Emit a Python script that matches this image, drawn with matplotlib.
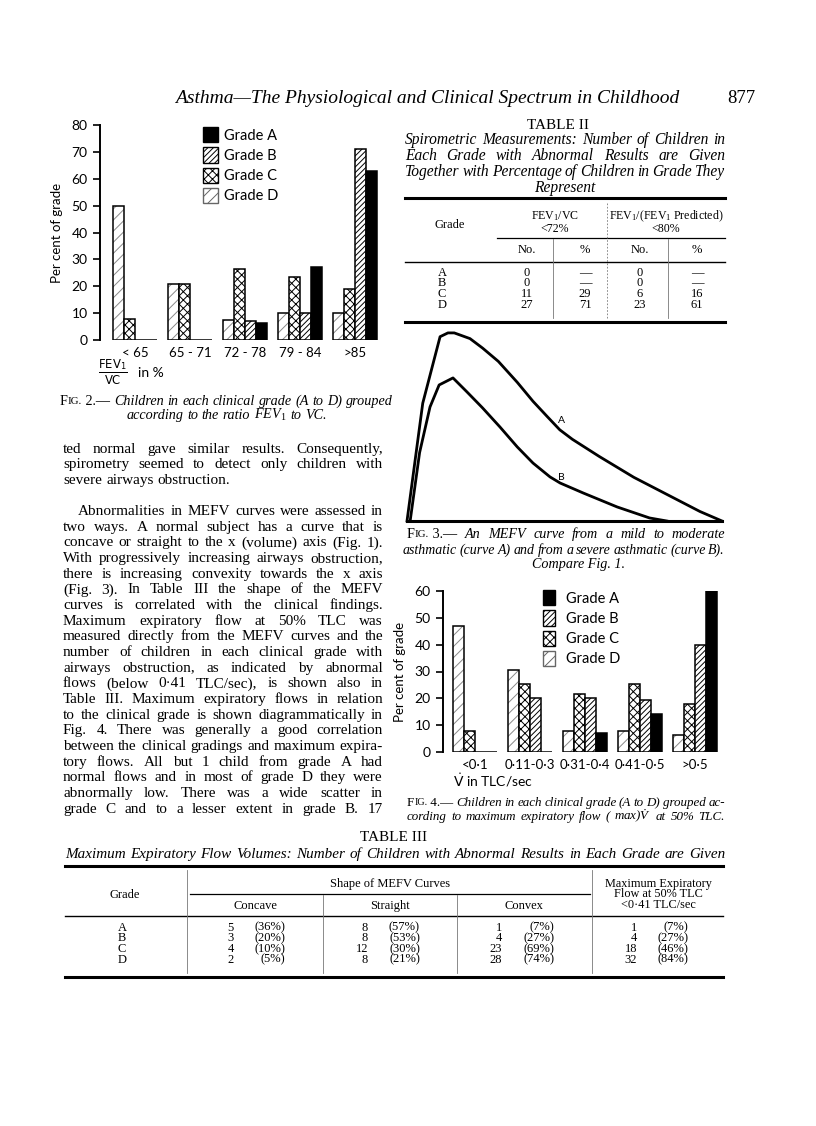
import numpy as np
import matplotlib
matplotlib.use("Agg")
import matplotlib.pyplot as plt
from matplotlib.patches import Patch
from matplotlib.lines import Line2D

# ---- data ----
fev_groups = ["< 65", "65 - 71", "72 - 78", "79 - 84", ">85"]
fev_grade_d = [50, 21, 7.5, 10, 10]
fev_grade_c = [8, 21, 26.5, 23.5, 19]
fev_grade_b = [0, 0, 7, 10, 71]
fev_grade_a = [0, 0, 6.5, 27, 63]

flow_groups = ["<0·1", "0·11-0·3", "0·31-0·4", "0·41-0·5", ">0·5"]
flow_grade_d = [47, 30.5, 8, 8, 6.5]
flow_grade_c = [8, 25.5, 21.5, 25.5, 18]
flow_grade_b = [0, 20, 20, 19.5, 40]
flow_grade_a = [0, 0, 7, 14, 60]

# MEFV curves (volume, flow in % of full scale)
vol_a = [0, 5, 10.5, 13, 15, 20, 24, 29, 35, 40, 44.5, 48.5, 52.5, 61, 72, 82.5, 93, 100]
flow_a = [0, 62, 97, 99, 99, 96, 91, 84, 73, 63, 55, 48, 43, 34, 23, 14, 5, 0]
vol_b = [1, 4, 7.3, 10.2, 14.6, 19, 24, 29.5, 35, 40, 45.4, 48.6, 56, 66.7, 77, 82.5]
flow_b = [0, 36, 60, 71.6, 75.3, 68, 59.5, 49.5, 39, 30.5, 23.2, 20, 14.7, 7.4, 1.6, 0]

t2_grades = ["A", "B", "C", "D"]
t2_fev_no = ["0", "0", "11", "27"]
t2_fev_pct = ["—", "—", "29", "71"]
t2_pred_no = ["0", "0", "6", "23"]
t2_pred_pct = ["—", "—", "16", "61"]

t3_grades = ["A", "B", "C", "D"]
t3_concave = [(5, 36), (3, 20), (4, 10), (2, 5)]
t3_straight = [(8, 57), (8, 53), (12, 30), (8, 21)]
t3_convex = [(1, 7), (4, 27), (23, 69), (28, 74)]
t3_maxflow = [(1, 7), (4, 27), (18, 46), (32, 84)]

body_1 = ["ted normal gave similar results.  Consequently,",
          "spirometry seemed to detect only children with",
          "severe airways obstruction."]
body_2 = ["Abnormalities in MEFV curves were assessed in",
          "two ways.  A normal subject has a curve that is",
          "concave or straight to the x (volume) axis (Fig. 1).",
          "With progressively increasing airways obstruction,",
          "there is increasing convexity towards the x axis",
          "(Fig. 3).  In Table III the shape of the MEFV",
          "curves is correlated with the clinical findings.",
          "Maximum expiratory flow at 50% TLC was",
          "measured directly from the MEFV curves and the",
          "number of children in each clinical grade with",
          "airways obstruction, as indicated by abnormal",
          "flows (below 0·41 TLC/sec), is shown also in",
          "Table III.  Maximum expiratory flows in relation",
          "to the clinical grade is shown diagrammatically in",
          "Fig. 4.  There was generally a good correlation",
          "between the clinical gradings and maximum expira-",
          "tory flows.  All but 1 child from grade A had",
          "normal flows and in most of grade D they were",
          "abnormally low.  There was a wide scatter in",
          "grade C and to a lesser extent in grade B.  17"]

SERIF = "Liberation Serif"
SANS = "Lato"
plt.rcParams["mathtext.fontset"] = "custom"
plt.rcParams["mathtext.rm"] = SERIF
plt.rcParams["mathtext.it"] = SERIF + ":italic"
plt.rcParams["mathtext.sf"] = "DejaVu Sans"
plt.rcParams["hatch.linewidth"] = 0.7
plt.rcParams["font.family"] = [SANS, "DejaVu Sans"]

W, H = 816, 1126
fig = plt.figure(figsize=(W / 100, H / 100), dpi=100)
fig.patch.set_facecolor("white")
R = fig.canvas.get_renderer()


def put(x, y, s, size=10, style="normal", ha="left", family=SERIF, **kw):
    # y is the visual centre of the line, converted to a baseline
    base = y + 0.3 * size * 100 / 72
    return fig.text(x / W, 1 - base / H, s, fontsize=size, fontstyle=style,
                    ha=ha, va="baseline", family=family, **kw)


def text_line(x0, x1, y, words, size=10, style="normal", align="justify"):
    pieces = []
    for w in words:
        segs = w if isinstance(w, list) else [(w, style, 1.0)]
        pieces.append([put(0, y, s, size * sc, st) for s, st, sc in segs])
    widths = [[t.get_window_extent(R).width for t in ts] for ts in pieces]
    total = sum(sum(ws) for ws in widths)
    gap = 0.27 * size * 100 / 72
    x = x0
    if align == "justify" and len(pieces) > 1:
        gap = (x1 - x0 - total) / (len(pieces) - 1)
    elif align == "center":
        x = (x0 + x1) / 2 - (total + gap * (len(pieces) - 1)) / 2
    for ts, ws in zip(pieces, widths):
        for t, w in zip(ts, ws):
            t.set_x(x / W)
            x += w
        x += gap


def hline(x0, x1, y, lw=0.8, color="black", ls="-"):
    fig.add_artist(Line2D([x0 / W, x1 / W], [1 - y / H, 1 - y / H], lw=lw,
                          color=color, ls=ls, transform=fig.transFigure))


def vline(x, y0, y1, lw=0.6, color="#777777", ls="-"):
    fig.add_artist(Line2D([x / W, x / W], [1 - y0 / H, 1 - y1 / H], lw=lw,
                          color=color, ls=ls, transform=fig.transFigure))


def axes_px(x0, y0, x1, y1):
    return fig.add_axes([x0 / W, 1 - y1 / H, (x1 - x0) / W, (y1 - y0) / H])


def fig_label(num):
    return [[("F", "normal", 1.0), ("IG.", "normal", 0.78), (" %d.—" % num, "normal", 1.0)]]


# ---- running head ----
put(175, 97, "Asthma—The Physiological and Clinical Spectrum in Childhood", 14, "italic")
put(727, 97, "877", 13.5)


# ---- grouped bar charts ----
def bar_chart(ax, groups, d, c, b, a, ymax, xmin):
    x = np.arange(len(groups))
    w = 0.2
    ax.bar(x - 1.5 * w, d, w, color="white", edgecolor="#8a8a8a", hatch="///", lw=0)
    ax.bar(x - 1.5 * w, d, w, fill=False, edgecolor="black", lw=1.1)
    ax.bar(x - 0.5 * w, c, w, color="white", edgecolor="black", hatch="xxxx", lw=1.1)
    ax.bar(x + 0.5 * w, b, w, color="white", edgecolor="black", hatch="//////", lw=1.1)
    ax.bar(x + 1.5 * w, a, w, color="black", edgecolor="black", lw=1.1)
    ax.set_xlim(xmin, xmin + (ax.get_position().width * W) / 55)
    ax.set_ylim(0, ymax)
    ax.set_yticks(np.arange(0, ymax + 1, 10))
    ax.set_xticks(x)
    ax.set_xticklabels(groups, fontsize=9.5)
    ax.tick_params(axis="x", length=0, pad=5)
    ax.tick_params(axis="y", length=5, width=1.2, labelsize=10, pad=4)
    for s in ["top", "right", "bottom"]:
        ax.spines[s].set_visible(False)
    ax.spines["left"].set_linewidth(1.4)
    ax.set_ylabel("Per cent of grade", fontsize=9.5, labelpad=6)
    handles = [Patch(facecolor="black", edgecolor="black"),
               Patch(facecolor="white", edgecolor="black", hatch="//////"),
               Patch(facecolor="white", edgecolor="black", hatch="xxxx"),
               Patch(facecolor="white", edgecolor="#666666", hatch="///")]
    return handles


ax2 = axes_px(100, 125, 385, 340)
h = bar_chart(ax2, fev_groups, fev_grade_d, fev_grade_c, fev_grade_b, fev_grade_a, 80, -0.636)
ax2.legend(h, ["Grade A", "Grade B", "Grade C", "Grade D"], loc="upper left",
           bbox_to_anchor=(203 / W, 1 - 127 / H), bbox_transform=fig.transFigure,
           frameon=False, fontsize=10.5, borderpad=0, borderaxespad=0,
           handlelength=1.0, handleheight=1.25, labelspacing=0.32, handletextpad=0.45)
fig.text(113 / W, 1 - 372 / H, r"$\frac{\mathsf{FEV}_{\mathsf{1}}}{\mathsf{VC}}$", fontsize=12,
         ha="center", va="center")
fig.text(138 / W, 1 - 373 / H, "in %", fontsize=10, ha="left", va="center")

ax4 = axes_px(443, 591, 725, 752)
h = bar_chart(ax4, flow_groups, flow_grade_d, flow_grade_c, flow_grade_b, flow_grade_a, 60, -0.582)
ax4.legend(h, ["Grade A", "Grade B", "Grade C", "Grade D"], loc="upper left",
           bbox_to_anchor=(543 / W, 1 - 590 / H), bbox_transform=fig.transFigure,
           frameon=False, fontsize=10.5, borderpad=0, borderaxespad=0,
           handlelength=0.8, handleheight=1.25, labelspacing=0.32, handletextpad=0.75)
fig.text(453 / W, 1 - 780 / H, r"$\dot{\mathsf{V}}$ in TLC/sec", fontsize=10, ha="left", va="center")

# ---- Fig. 3 MEFV curves ----
ax3 = axes_px(407, 331, 722, 521)
ax3.plot(vol_a, flow_a, color="black", lw=2.0, solid_joinstyle="round", clip_on=False)
ax3.plot(vol_b, flow_b, color="black", lw=2.0, solid_joinstyle="round", clip_on=False)
ax3.axhline(0, color="black", lw=2.2, clip_on=False)
ax3.text(49, 53, "A", fontsize=7.5, ha="center", va="center")
ax3.text(49, 23, "B", fontsize=7.5, ha="center", va="center")
ax3.set_xlim(0, 100)
ax3.set_ylim(0, 100)
ax3.axis("off")

# ---- captions ----
text_line(60, 393, 401, fig_label(2) + "Children in each clinical grade (A to D) grouped".split(), 10.2, "italic")
text_line(60, 393, 415, "according to the ratio FEV$_1$ to VC.".split(), 10.2, "italic", align="center")

text_line(407, 725, 534, fig_label(3) + "An MEFV curve from a mild to moderate".split(), 10.2, "italic")
text_line(403, 725, 550, "asthmatic (curve A) and from a severe asthmatic (curve B).".split(), 10, "italic")
put(578, 564, "Compare Fig. 1.", 10.2, "italic", ha="center")

text_line(407, 725, 802, fig_label(4) + "Children in each clinical grade (A to D) grouped ac-".split(), 9.4, "italic")
text_line(407, 725, 816, "cording to maximum expiratory flow ( max)$\\dot{V}$ at 50% TLC.".split(), 9.4, "italic")

# ---- body text ----
y = 448
step = 15.65
for i, ln in enumerate(body_1):
    text_line(63, 383, y, ln.split(), 11, align="justify" if i < len(body_1) - 1 else "left")
    y += step
y += step
for i, ln in enumerate(body_2):
    text_line(78 if i == 0 else 63, 383, y, ln.split(), 11)
    y += step

# ---- Table II ----
put(558, 124, "TABLE II", 11, ha="center")
t2_title = ["Spirometric Measurements: Number of Children in",
            "Each Grade with Abnormal Results are Given",
            "Together with Percentage of Children in Grade They"]
for i, ln in enumerate(t2_title):
    text_line(405, 725, 139 + 16 * i, ln.split(), 11.2, "italic")
put(565, 187, "Represent", 11.2, "italic", ha="center")
hline(405, 725, 198, lw=2.2)
put(450, 224, "Grade", 9, ha="center")
put(555, 216, "FEV$_1$/VC", 8.6, ha="center")
put(555, 228, "<72%", 8.6, ha="center")
put(666, 216, "FEV$_1$/(FEV$_1$ Predicted)", 8.6, ha="center")
put(666, 228, "<80%", 8.6, ha="center")
hline(497, 725, 238, lw=0.9)
for x, s in zip([527, 585, 640, 697], ["No.", "%", "No.", "%"]):
    put(x, 249, s, 9, ha="center")
hline(405, 725, 262, lw=1.0)
vline(607, 203, 318, ls=(0, (2, 2)))
vline(553, 239, 318)
vline(668, 239, 318)
for i, g in enumerate(t2_grades):
    yy = 272 + 10.6 * i
    put(442, yy, g, 9, ha="center")
    put(527, yy, t2_fev_no[i], 9, ha="center")
    put(585, yy, t2_fev_pct[i], 9, ha="center")
    put(640, yy, t2_pred_no[i], 9, ha="center")
    put(697, yy, t2_pred_pct[i], 9, ha="center")
hline(405, 725, 322, lw=2.2)

# ---- Table III ----
put(394, 836, "TABLE III", 11, ha="center")
text_line(65, 725, 853, "Maximum Expiratory Flow Volumes: Number of Children with Abnormal Results in Each Grade are Given".split(), 10.9, "italic")
hline(65, 723, 866, lw=2.2)
put(125, 894, "Grade", 9, ha="center")
put(390, 883, "Shape of MEFV Curves", 9, ha="center")
hline(190, 590, 894, lw=0.9)
for x, s in zip([255, 390, 524], ["Concave", "Straight", "Convex"]):
    put(x, 905, s, 9, ha="center")
for k, s in enumerate(["Maximum Expiratory", "Flow at 50% TLC", "<0·41 TLC/sec"]):
    put(658, 883 + 10.6 * k, s, 8.8, ha="center")
hline(65, 723, 916, lw=1.0)
vline(187, 870, 973)
vline(592, 870, 973)
vline(323, 895, 973)
vline(457, 895, 973)
cols = [(t3_concave, 234, 285), (t3_straight, 368, 420), (t3_convex, 502, 554), (t3_maxflow, 637, 688)]
for i, g in enumerate(t3_grades):
    yy = 927 + 10.6 * i
    put(122, yy, g, 9, ha="center")
    for vals, xn, xp in cols:
        n, p = vals[i]
        put(xn, yy, str(n), 9, ha="right")
        put(xp, yy, "(%d%%)" % p, 9, ha="right")
hline(65, 723, 977, lw=2.2)

fig.savefig("out.png", dpi=100, facecolor="white")
